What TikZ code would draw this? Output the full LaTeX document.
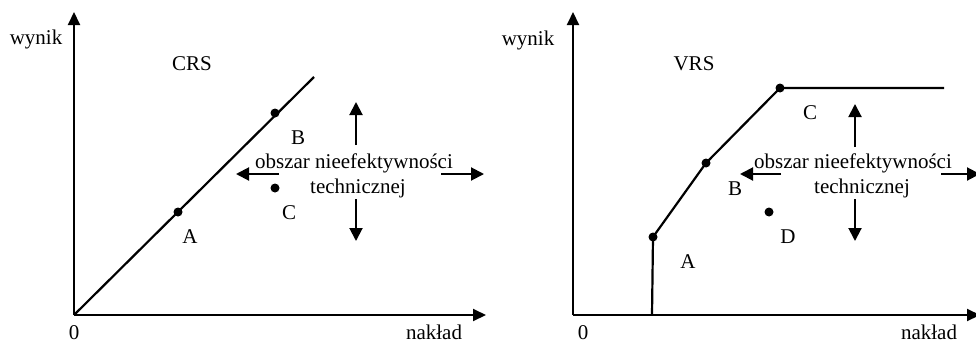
\documentclass[tikz,border=0pt]{standalone}
\usepackage{fontspec}
\setmainfont{Liberation Serif}
\usetikzlibrary{arrows.meta}
\begin{document}
\begin{tikzpicture}[x=1pt,y=-1pt,
  txt/.style={font=\fontsize{21}{25}\selectfont, inner sep=0pt, anchor=base},
  dot/.style={circle, fill=black, inner sep=0pt, minimum size=9pt},
  axis/.style={line width=2pt, -{Triangle[length=13pt,width=12pt]}},
  arr/.style={line width=2pt, -{Triangle[length=13pt,width=13pt]}},
  front/.style={line width=2.2pt}]
\useasboundingbox (0,0) rectangle (976,343);
\clip (0,0) rectangle (976,343);
% ---------- left panel (CRS) ----------
\coordinate (O1) at (74,315);
\coordinate (Y1) at (74,12);
\coordinate (X1) at (486,315);
\draw[axis] (O1) -- (Y1);
\draw[axis] (O1) -- (X1);
\coordinate (E1) at (314,77);
\draw[front] (O1) -- (E1);
\node[dot] (pA1) at (178,212) {};
\node[dot] (pB1) at (275,113) {};
\node[dot] (pC1) at (275,188) {};
\node[txt] (lw1) at (36,44) {wynik};
\node[txt] (crs) at (192,70) {CRS};
\node[txt] (lB1) at (298,144) {B};
\node[txt] (lC1) at (289,219) {C};
\node[txt] (lA1) at (190,243) {A};
\node[txt] (ob1) at (354,168) {obszar nieefektywności};
\node[txt] (te1) at (358,193) {technicznej};
\node[txt] (z1) at (74,339.5) {0};
\node[txt] (n1) at (434,339.5) {nakład};
\coordinate (u1s) at (356,145); \coordinate (u1e) at (356,102);
\coordinate (d1s) at (356,199); \coordinate (d1e) at (356,241);
\coordinate (l1s) at (279,174); \coordinate (l1e) at (236,174);
\coordinate (r1s) at (441,174); \coordinate (r1e) at (484,174);
\draw[arr] (u1s) -- (u1e);
\draw[arr] (d1s) -- (d1e);
\draw[arr] (l1s) -- (l1e);
\draw[arr] (r1s) -- (r1e);
% ---------- right panel (VRS) ----------
\coordinate (O2) at (573,315);
\coordinate (Y2) at (573,12);
\coordinate (X2) at (980,315);
\draw[axis] (O2) -- (Y2);
\draw[axis] (O2) -- (X2);
\coordinate (F0) at (652,315);
\node[dot] (pA2) at (653,237) {};
\node[dot] (pB2) at (706,163) {};
\node[dot] (pC2) at (780,88) {};
\coordinate (F4) at (944,88);
\node[dot] (pD2) at (769,212) {};
\draw[front] (F0) -- (pA2.center) -- (pB2.center) -- (pC2.center) -- (F4);
\node[txt] (lw2) at (528,45) {wynik};
\node[txt] (vrs) at (694,70) {VRS};
\node[txt] (lC2) at (810,119) {C};
\node[txt] (lB2) at (735,195) {B};
\node[txt] (lD2) at (788,243) {D};
\node[txt] (lA2) at (688,268) {A};
\node[txt] (ob2) at (853,168) {obszar nieefektywności};
\node[txt] (te2) at (862,193) {technicznej};
\node[txt] (z2) at (583,339.5) {0};
\node[txt] (n2) at (929,339.5) {nakład};
\coordinate (u2s) at (855,147); \coordinate (u2e) at (855,104);
\coordinate (d2s) at (855,199); \coordinate (d2e) at (855,241);
\coordinate (l2s) at (781,174); \coordinate (l2e) at (740,174);
\coordinate (r2s) at (941,174); \coordinate (r2e) at (980,174);
\draw[arr] (u2s) -- (u2e);
\draw[arr] (d2s) -- (d2e);
\draw[arr] (l2s) -- (l2e);
\draw[arr] (r2s) -- (r2e);
\end{tikzpicture}
\end{document}
